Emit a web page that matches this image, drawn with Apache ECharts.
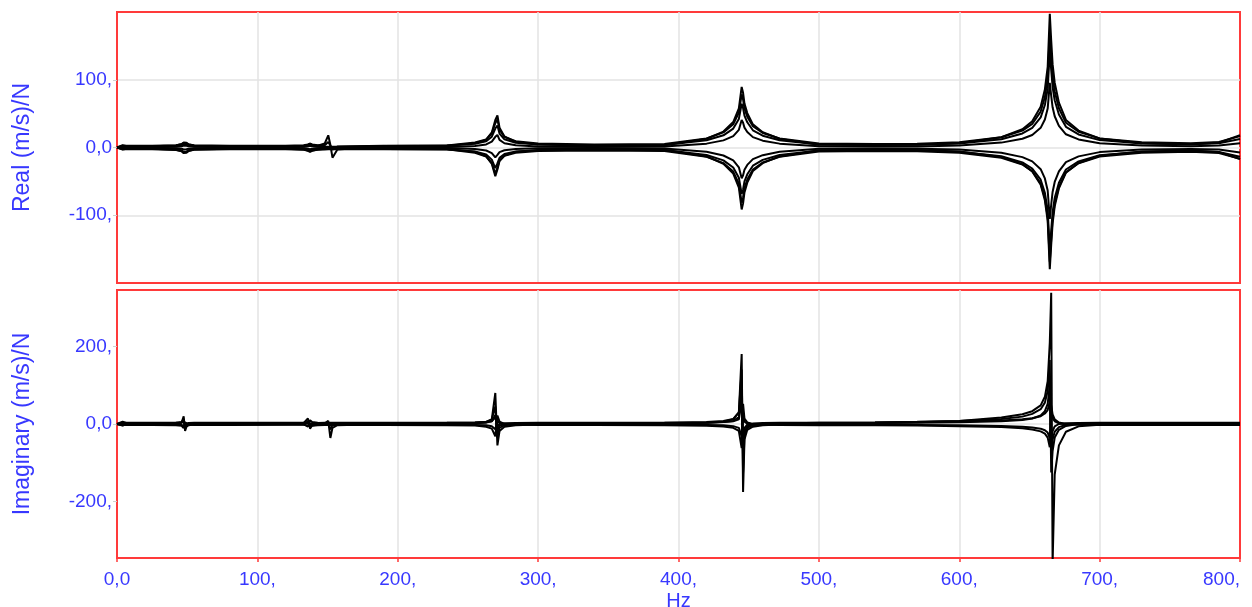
<!DOCTYPE html>
<html>
<head>
<meta charset="utf-8">
<script src="https://cdn.jsdelivr.net/npm/echarts@6/dist/echarts.min.js"></script>
<style>
  html, body { margin: 0; padding: 0; background: #fff; }
  #main { width: 1252px; height: 607px; }
</style>
</head>
<body>
<div id="main"></div>
<script>
// frequency bins (Hz), denser around the resonances
const freqs = [0, 4, 8, 25, 42, 46, 47.5, 48.5, 49.5, 51,
  55, 80, 120, 133, 136, 137.5, 139, 143, 148, 150.5,
  152, 153.5, 157, 190, 235, 255, 263, 267, 269.5, 271,
  272.5, 276, 284, 300, 340, 390, 420, 432, 439, 443,
  445, 446, 447, 449, 453, 460, 472, 500, 540, 570,
  600, 630, 645, 652, 658, 661, 663, 664.5, 665.5, 666.5,
  668, 671, 676, 685, 700, 730, 765, 785, 800];

// real part, one array per measurement point
const re1 = [0, 3.5, 1.5, 1.7, 3.1, 5.1, 7.5, 9.5, 7.1, 4.7,
  2.7, 1.7, 1.7, 2.7, 4.1, 5.5, 4.1, 2.7, 5.9, 18,
  4, -15, -3, 1.7, 2.4, 6.1, 11.6, 22.2, 40.6, 47.5,
  29.1, 16.2, 8.4, 4.3, 2.6, 3.3, 12.9, 23.5, 37.6, 57.8,
  89.5, 80.7, 64.9, 50.8, 34.1, 22.6, 12.9, 4.1, 3.6, 3.9,
  6.4, 15.2, 27, 38.7, 60.3, 85.8, 119.1, 197.5, 158.3, 123,
  95.6, 66.2, 40.7, 25, 13.3, 6.4, 4.6, 7.2, 18.1];
const re2 = [0, -3, -1.5, -1.8, -3.3, -5.6, -8.3, -10.5, -7.8, -5.1,
  -2.9, -1.8, -1.8, -3, -4.8, -6.5, -4.8, -3, -2, -1.8,
  -1.7, -1.5, -1.5, -1.7, -2.3, -6.4, -13, -24.1, -42.5, -32.3,
  -20, -11.8, -6.4, -3.5, -2.5, -3.3, -13.2, -24, -38.4, -59.1,
  -91.5, -82.5, -66.3, -51.9, -34.8, -23.1, -13.2, -4.2, -3.5, -3.6,
  -6, -14, -24.6, -35.3, -54.9, -78, -108.3, -179.5, -143.9, -111.9,
  -86.9, -60.2, -37.1, -22.9, -12.2, -6, -4.3, -6.8, -16.9];
const re3 = [0, 2.5, 2.5, 2.6, 3.5, 4.8, 6.3, 7.5, 6, 4.5,
  3.3, 2.6, 2.7, 3.4, 4.5, 5.5, 4.5, 3.4, 3.5, 8,
  3, -3, 1.5, 2.7, 3.1, 5.5, 9.1, 16, 28, 32.5,
  20.5, 12.1, 7, 4.3, 3.3, 3.7, 10.6, 18, 27.9, 42.2,
  64.5, 58.3, 47.1, 37.2, 25.4, 17.4, 10.6, 4.4, 3.9, 4.2,
  6, 12.3, 20.7, 29.1, 44.5, 62.7, 86.5, 142.5, 114.5, 89.3,
  69.7, 48.7, 30.5, 19.3, 10.9, 6, 4.7, 6.2, 12.6];
const re4 = [0, -2.5, -2.5, -2.7, -3.7, -5.2, -7, -8.5, -6.7, -4.9,
  -3.4, -2.7, -2.6, -3.4, -4.5, -5.5, -4.5, -3.4, -2.8, -2.6,
  -2.6, -2.5, -2.5, -2.6, -3.1, -5.9, -10.3, -17.9, -30.5, -23.5,
  -15.1, -9.5, -5.9, -3.9, -3.2, -3.8, -11.1, -19, -29.6, -44.7,
  -68.5, -61.9, -50, -39.5, -26.9, -18.3, -11.1, -4.5, -4.1, -4.3,
  -6.3, -13, -22, -31, -47.5, -67, -92.5, -152.5, -122.5, -95.5,
  -74.5, -52, -32.5, -20.5, -11.5, -6.3, -4.8, -6.5, -13.7];
const re5 = [0, 1, 0.5, 0.6, 1.1, 1.9, 2.8, 3.5, 2.6, 1.7,
  1, 0.6, 0.6, 1.1, 1.8, 2.5, 1.8, 1.1, 0.7, 0.6,
  0.6, 0.5, 0.5, 0.6, 0.9, 2.3, 4.5, 8.6, 15.8, 18.5,
  11.3, 6.3, 3.2, 1.6, 1, 1.3, 5.7, 10.5, 16.9, 26.1,
  40.5, 36.5, 29.3, 22.9, 15.3, 10.1, 5.7, 1.7, 1.5, 1.6,
  2.9, 7.2, 12.9, 18.5, 29, 41.4, 57.5, 95.5, 76.5, 59.4,
  46.1, 31.9, 19.5, 11.9, 6.2, 2.9, 1.9, 2.8, 6.3];
const re6 = [0, -1, -0.5, -0.6, -1.1, -1.9, -2.8, -3.5, -2.6, -1.7,
  -1, -0.6, -0.6, -1.1, -1.8, -2.5, -1.8, -1.1, -0.7, -0.6,
  -0.6, -0.5, -0.5, -0.6, -0.8, -2.2, -4.4, -8.2, -14.5, -11,
  -6.8, -4, -2.2, -1.2, -0.9, -1.4, -6.4, -11.8, -19, -29.3,
  -45.5, -41, -32.9, -25.7, -17.2, -11.3, -6.4, -1.9, -1.6, -1.8,
  -3.1, -7.9, -14.2, -20.5, -32, -45.7, -63.5, -105.5, -84.5, -65.6,
  -50.9, -35.2, -21.5, -13.1, -6.8, -3.1, -2.1, -3.1, -7.3];
const re7 = [0, 1, 1, 1.2, 2.2, 3.7, 5.5, 7, 5.2, 3.4,
  1.9, 1.2, 1.1, 1.6, 2.3, 3, 2.3, 1.6, 1.2, 1.1,
  1, 1, 1, 2.2, 2.8, 7.3, 11.9, 20.6, 35.8, 41.5,
  26.3, 15.7, 9.2, 5.8, 4.5, 5, 13.3, 22.3, 34.3, 51.5,
  78.5, 71, 57.5, 45.5, 31.3, 21.5, 13.3, 5.8, 5.3, 5.5,
  7.6, 15.1, 25, 34.9, 53, 74.5, 102.5, 168.5, 135.5, 105.8,
  82.7, 58, 36.5, 23.3, 13.4, 7.6, 6.1, 8.2, 16.8];
const re8 = [0, -1, -1, -1.2, -2.4, -4.2, -6.3, -8, -5.9, -3.8,
  -2.1, -1.2, -1.2, -2.2, -3.6, -5, -3.6, -2.2, -1.4, -1.2,
  -1.1, -1, -1, -2.2, -2.7, -7.7, -13.3, -22.8, -38.5, -29.8,
  -19.3, -12.3, -7.7, -5.3, -4.3, -5.1, -13.6, -23, -35.5, -53.4,
  -81.5, -73.7, -59.7, -47.2, -32.4, -22.2, -13.6, -5.8, -5.3, -5.5,
  -7.6, -15.1, -25, -34.9, -53, -74.5, -102.5, -168.5, -135.5, -105.8,
  -82.7, -58, -36.5, -23.3, -13.4, -7.6, -6.1, -8.2, -16.8];

// imaginary part
const im1 = [0, 6, 0.5, 0.5, 1.5, 4, 20, -18, -7, -3,
  -1, 0, 0.5, 3, 14, -12, -4, -1.5, 1, 8,
  -36, -10, -3, 0, 0.5, 2, 4, 12, 80, -55,
  -18, -7, -3, -1, 0, 1, 3, 6, 12, 30,
  180, -175, -40, -15, -7, -3, -1, 2, 3, 4.5,
  8, 17, 25, 33, 48, 70, 110, 210, 338, -360,
  -130, -55, -20, -6, -2, -1, 0, 0, 0];
const im2 = [0, -4, 2.5, 2.5, 3, 5, 13, -8, -3, 0.5,
  2, 2.5, 2, 0.5, -7, 10, 5, 3.5, 2.5, 4,
  -14, -3, 1, 2.5, 3, 4, 6, 12, 45, -35,
  -10, -3, 0, 1.5, 2.5, 3.5, 5, 8, 13, 30,
  140, -125, -30, -10, -3, 0, 1.5, 3.5, 4, 5.5,
  8, 13, 19, 26, 38, 55, 85, 165, -125, -70,
  -35, -15, -5, 0, 2, 2.5, 2.5, 2.5, 2.5];
const im3 = [0, -2.5, -2.5, -2.5, -3, -4.5, -10.5, 4.5, 1, -1.5,
  -2.5, -2.5, -2, -1, 3.5, -7.5, -4.5, -3, -2.5, -2.5,
  -2.5, -2.5, -2.5, -2.5, -3, -4, -7, -12, -32, 22,
  6, 0, -1.5, -2.5, -2.5, -3, -4.5, -6.5, -10, -18,
  -62, 52, 14, 4, 0, -1.5, -2.5, -3, -3.5, -4,
  -5.5, -8, -11, -14, -19, -25, -35, -60, 48, 25,
  12, 4, 0, -1.5, -2.5, -2.5, -2.5, -2.5, -2.5];
const im4 = [0, 2, 1.5, 1.5, 2, 3, 7.5, -3.5, -1, 0.5,
  1.2, 1.5, 1.5, 2.5, 5.5, -2.5, 0, 1, 1.5, 1.5,
  1.5, 1.5, 1.5, 1.5, 2, 2.5, 4, 7, 23.5, -16.5,
  -4, -1, 0.5, 1.5, 1.5, 2, 3, 5, 8, 18,
  96, -83, -20, -6, -2, 0.5, 1.5, 2, 2.5, 3,
  4.5, 7, 10, 14, 22, 33, 52, 101, -78, -40,
  -20, -8, -2, 1, 1.5, 1.5, 1.5, 1.5, 1.5];
const im5 = [0, -3, -1.5, -1.5, -1.8, -2.5, -5.5, 1.5, -0.5, -1.2,
  -1.5, -1.5, -1.5, -2, -4.5, 0.5, -0.8, -1.3, -1.5, -1.5,
  -1.5, -1.5, -1.5, -1.5, -1.8, -2.3, -3.5, -6, -13.5, 8.5,
  2, -0.5, -1.2, -1.5, -1.5, -1.8, -2.5, -3.5, -5.5, -10,
  -31.5, 23.5, 6, 1, -0.5, -1.2, -1.5, -1.8, -2, -2.5,
  -3.5, -5, -7, -9, -12, -16, -22, -36.5, 28.5, 15,
  7, 2, -0.5, -1.2, -1.5, -1.5, -1.5, -1.5, -1.5];
const im6 = [0, 3, 3, 3, 3.2, 4, 6, 0, 1.5, 2.5,
  3, 3, 3, 3.5, 5, 1, 2, 2.7, 3, 3,
  3, 3, 3, 3, 3.2, 3.7, 5, 7, 18, -7,
  0.5, 2, 2.7, 3, 3, 3.3, 4, 5, 7, 12,
  58, -42, -10, -2, 1, 2.5, 3, 3.5, 4, 5,
  6.5, 9, 12, 15, 20, 27, 36, 58, -40, -18,
  -6, 0, 2, 2.8, 3, 3, 3, 3, 3];

const realCurves = [re1, re2, re3, re4, re5, re6, re7, re8];
const imagCurves = [im1, im2, im3, im4, im5, im6];
const imagTicks = [-200, 0, 200];

const blue = '#3838ff';
const red = '#ff3a3a';
const gridGray = '#e3e3e3';
const font = 'Liberation Sans, Arial, sans-serif';

function pairUp(values) {
  return freqs.map((f, i) => [f, values[i]]);
}

function fmt(v) {
  return v === 0 ? '0,0' : v + ',';
}

function curve(values, panel) {
  return {
    type: 'line',
    xAxisIndex: panel,
    yAxisIndex: panel,
    data: pairUp(values),
    symbol: 'none',
    silent: true,
    lineStyle: { color: '#000', width: 2 }
  };
}

let myChart = echarts.init(document.getElementById('main'));

// grid lines stop short of the red frame
let splitStyle = {
  showMinLine: false,
  showMaxLine: false,
  lineStyle: { color: gridGray, width: 1.5 }
};

let xBase = {
  type: 'value',
  min: 0,
  max: 800,
  interval: 100,
  axisLine: { onZero: false, lineStyle: { color: red, width: 2 } },
  splitLine: splitStyle
};

let nameStyle = { color: blue, fontSize: 23, fontFamily: font };

let option = {
  animation: false,
  backgroundColor: '#fff',
  grid: [
    { left: 117, right: 12, top: 12, height: 271, show: true, borderColor: red, borderWidth: 2, outerBoundsMode: 'none' },
    { left: 117, right: 12, top: 290, height: 268, show: true, borderColor: red, borderWidth: 2, outerBoundsMode: 'none' }
  ],
  xAxis: [
    Object.assign({}, xBase, {
      gridIndex: 0,
      axisTick: { show: false },
      axisLabel: { show: false }
    }),
    Object.assign({}, xBase, {
      gridIndex: 1,
      axisTick: { show: true, length: 4, lineStyle: { color: red, width: 1.5 } },
      axisLabel: { color: blue, fontSize: 19, fontFamily: font, margin: 12, formatter: fmt, alignMaxLabel: 'right' },
      name: 'Hz',
      nameLocation: 'middle',
      nameGap: 33,
      nameTextStyle: { color: blue, fontSize: 20, fontFamily: font }
    })
  ],
  yAxis: [
    {
      gridIndex: 0,
      type: 'value',
      min: -200,
      max: 200,
      interval: 100,
      name: 'Real (m/s)/N',
      nameLocation: 'middle',
      nameGap: 83,
      nameTextStyle: nameStyle,
      axisLine: { onZero: false, lineStyle: { color: red, width: 2 } },
      axisTick: { show: true, length: 4, lineStyle: { color: '#d0d0d0' } },
      axisLabel: { color: blue, fontSize: 19, fontFamily: font, margin: 5, formatter: fmt, showMinLabel: false, showMaxLabel: false },
      splitLine: splitStyle
    },
    {
      gridIndex: 1,
      type: 'value',
      min: -345,
      max: 345,
      name: 'Imaginary (m/s)/N',
      nameLocation: 'middle',
      nameGap: 83,
      nameTextStyle: nameStyle,
      axisLine: { onZero: false, lineStyle: { color: red, width: 2 } },
      axisTick: { show: true, length: 4, customValues: imagTicks, lineStyle: { color: '#d0d0d0' } },
      axisLabel: { color: blue, fontSize: 19, fontFamily: font, margin: 5, formatter: fmt, customValues: imagTicks },
      splitLine: Object.assign({ customValues: imagTicks }, splitStyle)
    }
  ],
  series: [].concat(
    realCurves.map((c) => curve(c, 0)),
    imagCurves.map((c) => curve(c, 1))
  )
};

myChart.setOption(option);
</script>
</body>
</html>
